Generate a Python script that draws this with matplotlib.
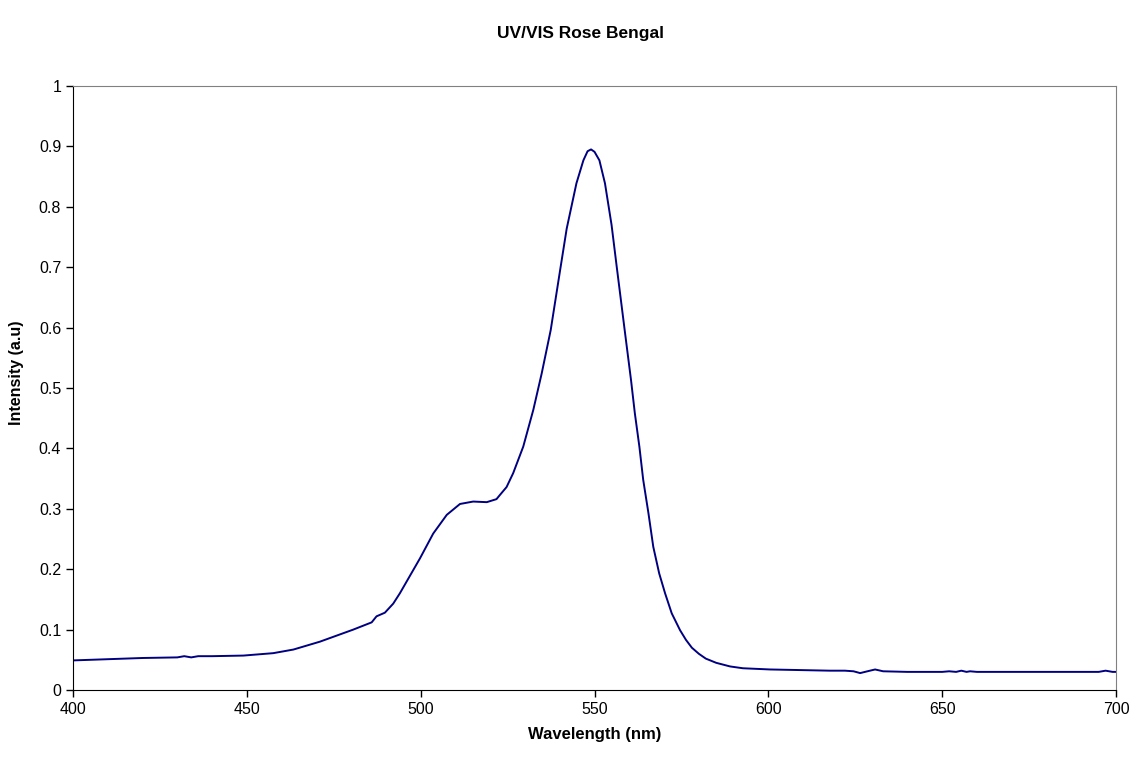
import matplotlib.pyplot as plt
from matplotlib.ticker import FuncFormatter

# wavelength (nm) and intensity
wavelength = [400, 410, 420, 430, 432, 434, 436, 440, 449, 457.6, 463.4, 471, 480.6,
              485.9, 487.3, 489.7, 492.1, 494, 497, 499.8, 503.6, 507.5, 511.3, 515.1,
              519, 521.8, 522.8, 524.7, 526.6, 529.5, 532.4, 534.8, 537.4, 540.1,
              542.0, 544.8, 546.8, 548, 549, 550, 551.4, 553.0, 554.9, 556.4, 558.8,
              560.5, 561.6, 562.9, 564.0, 565.5, 566.9, 568.6, 570.3, 572.2, 574.6,
              576.3, 578, 580, 582, 585, 589, 592.7, 600.5, 617.7, 622, 624.5, 626.4,
              628.5, 630.7, 633, 640, 650, 652, 654, 655.5, 657, 658, 660, 680, 695,
              697, 699, 700]
intensity = [0.049, 0.051, 0.053, 0.054, 0.056, 0.054, 0.056, 0.056, 0.057, 0.061,
             0.067, 0.080, 0.100, 0.112, 0.122, 0.128, 0.143, 0.160, 0.190, 0.218,
             0.259, 0.290, 0.308, 0.312, 0.311, 0.316, 0.323, 0.336, 0.359, 0.403,
             0.464, 0.524, 0.596, 0.695, 0.764, 0.839, 0.877, 0.892, 0.895, 0.891,
             0.877, 0.839, 0.770, 0.700, 0.590, 0.513, 0.458, 0.403, 0.348, 0.293,
             0.237, 0.193, 0.160, 0.127, 0.099, 0.083, 0.070, 0.060, 0.052, 0.045,
             0.039, 0.036, 0.034, 0.032, 0.032, 0.031, 0.028, 0.031, 0.034, 0.031,
             0.030, 0.030, 0.031, 0.030, 0.032, 0.030, 0.031, 0.030, 0.030, 0.030,
             0.032, 0.030, 0.030]

plt.rcParams['font.family'] = ['Liberation Sans', 'DejaVu Sans']

fig = plt.figure(figsize=(11.32, 7.57), dpi=100)
ax = fig.add_axes([0.0645, 0.0885, 0.9214, 0.7979])

ax.plot(wavelength, intensity, color='#000080', linewidth=1.4)

ax.set_xlim(400, 700)
ax.set_ylim(0, 1)
ax.set_xticks(range(400, 701, 50))
ax.set_yticks([i / 10 for i in range(11)])
ax.yaxis.set_major_formatter(FuncFormatter(lambda v, p: f"{v:g}"))
ax.tick_params(direction='out', length=5, width=1, labelsize=11.5, colors='black')

for side in ['top', 'right']:
    ax.spines[side].set_color('#808080')
for side in ['left', 'bottom']:
    ax.spines[side].set_color('black')

ax.set_xlabel('Wavelength (nm)', fontsize=12, fontweight='bold', labelpad=7)
ax.set_ylabel('Intensity (a.u)', fontsize=11.5, fontweight='bold')
ax.yaxis.set_label_coords(-0.047, 0.525)
fig.suptitle('UV/VIS Rose Bengal', fontsize=12.5, fontweight='bold', x=0.513, y=0.965)

fig.savefig('out.png', dpi=100)
